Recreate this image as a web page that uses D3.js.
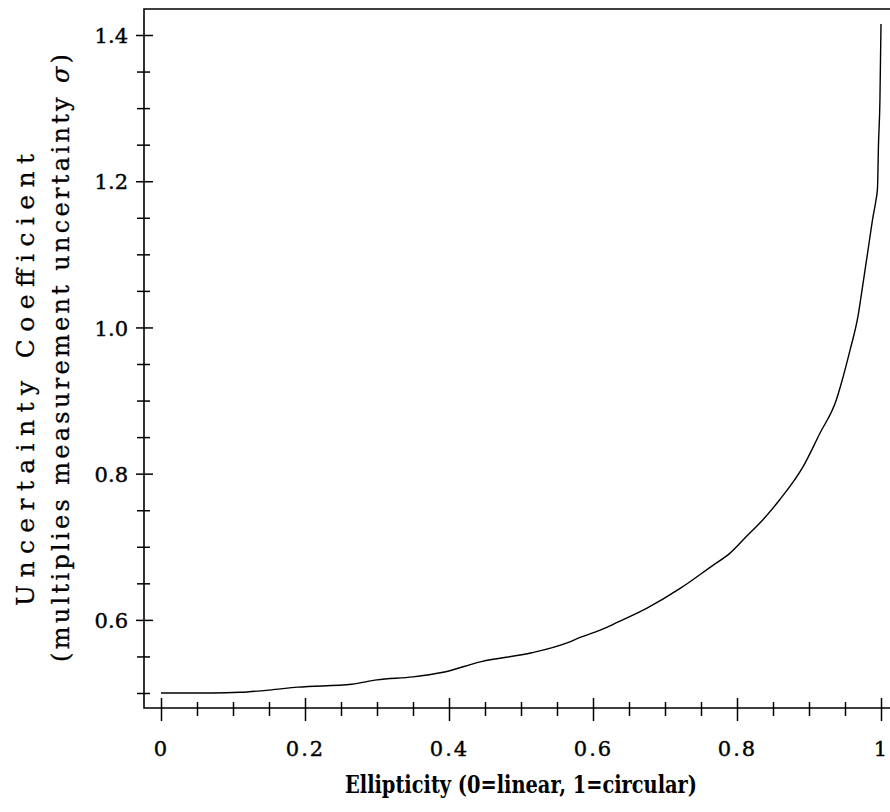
<!DOCTYPE html>
<html>
<head>
<meta charset="utf-8">
<script src="https://cdn.jsdelivr.net/npm/d3@7"></script>
<style>
  body { margin: 0; background: #fff; }
  text { font-family: "DejaVu Serif", serif; fill: #000; }
</style>
</head>
<body>
<div id="chart_id"></div>
<script>
// curve values
var ellipticity = [0, 0.07, 0.11, 0.15, 0.19, 0.265, 0.30, 0.35, 0.39, 0.445, 0.515, 0.565, 0.582, 0.61, 0.628,
    0.675, 0.721, 0.767, 0.79, 0.813, 0.836, 0.859, 0.892, 0.915, 0.938, 0.945, 0.957, 0.968, 0.975, 0.982,
    0.989, 0.993, 0.9951, 0.9965, 0.9985, 1.0];
var coefficient = [0.500, 0.500, 0.501, 0.504, 0.508, 0.512, 0.518, 0.522, 0.528, 0.543, 0.555, 0.569, 0.576, 0.586, 0.594,
    0.616, 0.643, 0.675, 0.691, 0.714, 0.737, 0.764, 0.810, 0.855, 0.901, 0.924, 0.969, 1.015, 1.060, 1.106,
    1.152, 1.174, 1.19, 1.25, 1.31, 1.415];

var xMajor = [0, 0.2, 0.4, 0.6, 0.8, 1];
var xMajorLabels = ["0", "0.2", "0.4", "0.6", "0.8", "1"];
var xMinor = [0.05, 0.1, 0.15, 0.25, 0.3, 0.35, 0.45, 0.5, 0.55, 0.65, 0.7, 0.75, 0.85, 0.9, 0.95];
var yMajor = [0.6, 0.8, 1.0, 1.2, 1.4];
var yMajorLabels = ["0.6", "0.8", "1.0", "1.2", "1.4"];
var yMinor = [0.5, 0.55, 0.65, 0.7, 0.75, 0.85, 0.9, 0.95, 1.05, 1.1, 1.15, 1.25, 1.3, 1.35];

var xTitle = "Ellipticity (0=linear, 1=circular)";
var yTitle1 = "Uncertainty Coefficient";
var yTitle2 = "(multiplies measurement uncertainty ";

var width = 890, height = 812;
var frameLeft = 144, frameTop = 9, frameBottom = 708, frameRight = 890;

var svg = d3.select("#chart_id").append("svg")
    .attr("width", width).attr("height", height);

var x = d3.scaleLinear().domain([0, 1]).range([161, 881]);
var y = d3.scaleLinear().domain([0.5, 1.4]).range([693, 35]);

// frame: top, left and bottom lines, open to the right
svg.append("path")
    .attr("d", "M" + frameRight + "," + frameTop + "H" + frameLeft + "V" + frameBottom + "H" + frameRight)
    .attr("fill", "none").attr("stroke", "#000").attr("stroke-width", 1.6);

// x axis ticks
var gx = svg.append("g").attr("transform", "translate(0," + frameBottom + ")");
gx.call(d3.axisBottom(x).tickValues(xMinor).tickSize(0).tickFormat(""));
gx.selectAll(".tick line").attr("y1", -6).attr("y2", 8).attr("stroke-width", 1.5);
var gx2 = svg.append("g").attr("transform", "translate(0," + frameBottom + ")");
gx2.call(d3.axisBottom(x).tickValues(xMajor).tickSize(0)
    .tickFormat(function(d, i) { return xMajorLabels[i]; }));
gx2.selectAll(".tick line").attr("y1", -10).attr("y2", 13).attr("stroke-width", 1.5);
gx2.selectAll(".tick text").attr("y", 48).attr("dy", null)
    .style("font-size", "21px").style("letter-spacing", "2px")
    .attr("stroke", "#000").attr("stroke-width", 0.4).attr("font-family", null);
svg.selectAll(".domain").remove();

// y axis ticks
var gy = svg.append("g").attr("transform", "translate(" + frameLeft + ",0)");
gy.call(d3.axisLeft(y).tickValues(yMinor).tickSize(0).tickFormat(""));
gy.selectAll(".tick line").attr("x1", -7).attr("x2", 6).attr("stroke-width", 1.5);
var gy2 = svg.append("g").attr("transform", "translate(" + frameLeft + ",0)");
gy2.call(d3.axisLeft(y).tickValues(yMajor).tickSize(0)
    .tickFormat(function(d, i) { return yMajorLabels[i]; }));
gy2.selectAll(".tick line").attr("x1", -8).attr("x2", 9).attr("stroke-width", 1.5);
gy2.selectAll(".tick text").attr("x", -16).attr("dy", "0.36em")
    .style("font-size", "21px")
    .attr("stroke", "#000").attr("stroke-width", 0.4).attr("font-family", null);
svg.selectAll(".domain").remove();
svg.selectAll(".tick line").attr("stroke", "#000");

// curve
var line = d3.line()
    .curve(d3.curveMonotoneX)
    .x(function(d) { return x(d[0]); })
    .y(function(d) { return y(d[1]); });
svg.append("path")
    .datum(d3.zip(ellipticity, coefficient))
    .attr("d", line)
    .attr("fill", "none").attr("stroke", "#000").attr("stroke-width", 1.4);

// titles
svg.append("text")
    .attr("x", x(0.5)).attr("y", 793)
    .attr("text-anchor", "middle")
    .style("font-size", "25px").style("font-weight", "bold")
    .attr("textLength", 352).attr("lengthAdjust", "spacingAndGlyphs")
    .text(xTitle);

svg.append("text")
    .attr("transform", "translate(34,380) rotate(-90)")
    .attr("text-anchor", "middle")
    .style("font-size", "25px")
    .attr("stroke", "#000").attr("stroke-width", 0.3)
    .attr("textLength", 452).attr("lengthAdjust", "spacing")
    .text(yTitle1);

var t2 = svg.append("text")
    .attr("transform", "translate(69,358) rotate(-90)")
    .attr("text-anchor", "middle")
    .style("font-size", "24px")
    .attr("stroke", "#000").attr("stroke-width", 0.3)
    .attr("textLength", 608).attr("lengthAdjust", "spacing");
t2.append("tspan").text(yTitle2);
t2.append("tspan").style("font-style", "italic").text("σ");
t2.append("tspan").text(")");
</script>
</body>
</html>
